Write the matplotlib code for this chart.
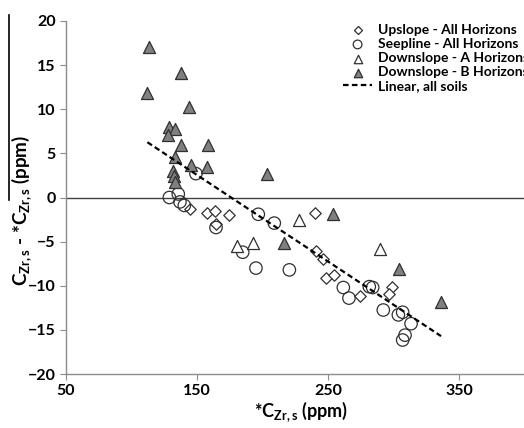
import numpy as np
import matplotlib
matplotlib.use("Agg")
import matplotlib.pyplot as plt
from matplotlib.lines import Line2D

plt.rcParams['font.family'] = ['Lato', 'DejaVu Sans']
plt.rcParams['font.weight'] = 'bold'
plt.rcParams['mathtext.fontset'] = 'custom'
plt.rcParams['mathtext.rm'] = 'Lato:bold'
plt.rcParams['mathtext.it'] = 'Lato:bold'
plt.rcParams['mathtext.bf'] = 'Lato:bold'

# Upslope - All Horizons
up_x = [144.5, 157.9, 163.7, 174.5, 164.2, 240.3, 240.8, 246.0, 248.7, 254.8, 274.2, 299.0, 296.6]
up_y = [-1.3, -1.8, -1.5, -2.0, -3.0, -1.8, -6.1, -7.0, -9.1, -8.8, -11.2, -10.1, -10.9]

# Seepline - All Horizons
seep_x = [128.9, 135.7, 137.0, 140.3, 149.2, 164.5, 184.9, 195.0, 196.8, 209.0, 220.5,
          261.7, 266.0, 281.5, 284.1, 292.2, 303.7, 307.0, 313.4, 308.8, 307.0]
seep_y = [0.0, 0.4, -0.5, -0.9, 2.7, -3.4, -6.2, -8.0, -1.9, -2.9, -8.2,
          -10.2, -11.4, -10.1, -10.2, -12.75, -13.3, -13.0, -14.3, -15.6, -16.15]

# Downslope - A Horizons
dA_x = [180.3, 193.0, 228.1, 289.7]
dA_y = [-5.5, -5.1, -2.5, -5.8]

# Downslope - B Horizons
dB_x = [113.4, 112.1, 138.0, 143.9, 128.9, 133.0, 127.6, 138.0, 158.4, 133.0,
        145.7, 157.4, 131.7, 132.4, 133.0, 203.7, 216.4, 253.8, 304.0, 336.3]
dB_y = [17.0, 11.8, 14.1, 10.3, 7.95, 7.8, 7.1, 5.9, 5.9, 4.6,
        3.65, 3.4, 3.0, 2.4, 1.8, 2.7, -5.1, -1.9, -8.1, -11.8]

# linear fit, all soils
slope = -0.098
intercept = 17.25

fig = plt.figure(figsize=(5.24, 4.28), dpi=100)
ax = fig.add_axes([66 / 524, 1 - 374 / 428, 458.5 / 524, 353 / 428])

edge = '#303030'
ax.axhline(0, color='#404040', lw=1.0, zorder=1)
ax.scatter(up_x, up_y, marker='D', s=34, facecolor='white', edgecolor=edge, lw=0.9,
           label='Upslope - All Horizons', zorder=3)
ax.scatter(seep_x, seep_y, marker='o', s=80, facecolor='none', edgecolor=edge, lw=0.9,
           label='Seepline - All Horizons', zorder=3)
ax.scatter(dA_x, dA_y, marker='^', s=75, facecolor='white', edgecolor=edge, lw=0.9,
           label='Downslope - A Horizons', zorder=3)
ax.scatter(dB_x, dB_y, marker='^', s=75, facecolor='#808080', edgecolor=edge, lw=0.9,
           label='Downslope - B Horizons', zorder=3)

all_x = np.array(up_x + seep_x + dA_x + dB_x)
fx = np.array([all_x.min(), all_x.max()])
ax.plot(fx, slope * fx + intercept, color='black', lw=1.6, ls=(0, (2.5, 1.5)),
        label='Linear, all soils', zorder=4)

ax.set_xlim(50, 400)
ax.set_ylim(-20, 20)
ax.set_xticks([50, 150, 250, 350])
ax.set_yticks(np.arange(-20, 21, 5))
for s in ['top', 'right']:
    ax.spines[s].set_visible(False)
for s in ['left', 'bottom']:
    ax.spines[s].set_color('#8c8c8c')
    ax.spines[s].set_linewidth(1.0)
ax.tick_params(colors='#8c8c8c', length=4, labelcolor='black', labelsize=11.5)
for lab in ax.get_xticklabels() + ax.get_yticklabels():
    lab.set_fontweight('bold')

fig.text(301 / 524, 1 - 412 / 428, r'*C$_{Zr,s}$ (ppm)', ha='center', va='center',
         fontsize=13, fontweight='bold')
fig.text(22 / 524, 1 - 210 / 428, r'C$_{Zr,s}$ - *C$_{Zr,s}$ (ppm)', ha='center', va='center',
         rotation=90, fontsize=13.5, fontweight='bold')
fig.add_artist(Line2D([9 / 524, 9 / 524], [1 - 15 / 428, 1 - 200 / 428], color='black', lw=1.2))

ax.legend(loc='upper left', bbox_to_anchor=(343 / 524, 1 - 24 / 428), bbox_transform=fig.transFigure,
          frameon=False, labelspacing=0.15, handlelength=2.1, handletextpad=0.4, markerscale=0.7,
          borderpad=0, borderaxespad=0, prop={'weight': 'bold', 'size': 10})

fig.savefig('out.png', dpi=100)
